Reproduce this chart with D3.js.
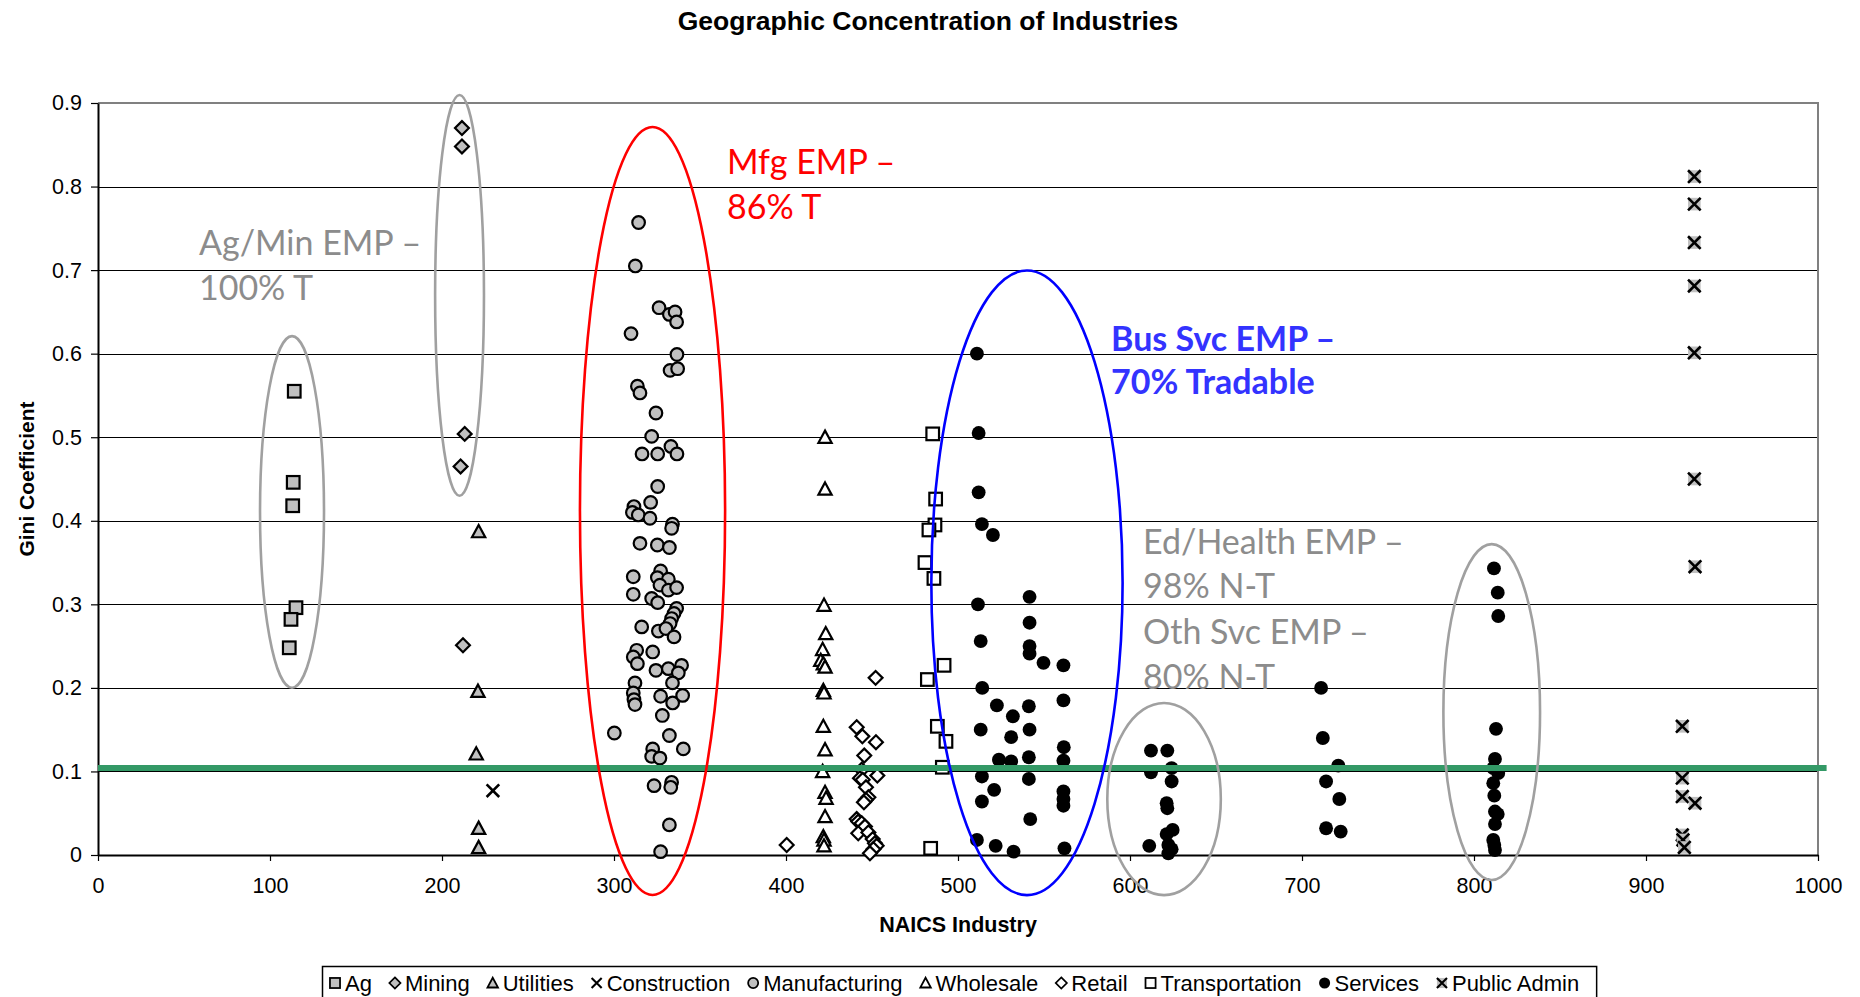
<!DOCTYPE html>
<html>
<head>
<meta charset="utf-8">
<script src="https://cdn.jsdelivr.net/npm/d3@7"></script>
<style>
  body { margin: 0; background: #fff; }
  text { font-family: "Liberation Sans", Arial, sans-serif; }
  .note { font-family: Lato, "Open Sans", sans-serif; }
</style>
</head>
<body>
<div id="chart"></div>
<script>
// ---- data (NAICS code, Gini coefficient) ----
const ag = [[114.1, 0.555], [113.5, 0.446], [113.2, 0.418], [115.1, 0.296], [112.2, 0.282], [111.2, 0.248]];
const mining = [[211.6, 0.870], [211.6, 0.848], [213.2, 0.504], [210.8, 0.465], [212.2, 0.251]];
const utilities = [[221.3, 0.387], [220.9, 0.196], [219.9, 0.121], [221.3, 0.032], [221.3, 0.009]];
const construction = [[229.6, 0.077]];
const manufacturing = [
  [314.3, 0.757], [312.4, 0.705], [326.2, 0.655], [332.2, 0.647], [335.5, 0.650], [336.4, 0.638], [309.9, 0.624],
  [336.6, 0.599], [332.6, 0.580], [337.0, 0.582], [313.6, 0.561], [315.1, 0.553], [324.4, 0.529], [321.9, 0.501],
  [333.1, 0.489], [316.3, 0.480], [325.4, 0.480], [336.6, 0.480], [325.4, 0.441], [321.3, 0.422], [311.6, 0.417],
  [310.7, 0.410], [314.1, 0.407], [320.9, 0.403], [334.0, 0.396], [333.5, 0.391], [315.1, 0.373], [325.2, 0.371],
  [332.2, 0.368], [311.2, 0.333], [327.1, 0.340], [325.2, 0.332], [331.6, 0.330], [326.7, 0.323], [331.6, 0.317],
  [336.4, 0.320], [311.2, 0.312], [321.9, 0.307], [325.4, 0.302], [336.4, 0.295], [334.9, 0.289], [333.5, 0.283],
  [332.6, 0.277], [316.1, 0.273], [325.8, 0.268], [330.2, 0.271], [334.9, 0.261], [313.2, 0.245], [311.2, 0.237],
  [313.6, 0.229], [322.5, 0.243], [324.4, 0.221], [331.6, 0.223], [339.3, 0.227], [337.4, 0.218], [334.0, 0.206],
  [312.2, 0.206], [311.2, 0.194], [311.6, 0.186], [312.2, 0.180], [327.1, 0.190], [334.1, 0.182], [339.9, 0.191],
  [328.1, 0.167], [300.2, 0.146], [332.2, 0.143], [340.3, 0.127], [322.5, 0.127], [321.9, 0.118], [326.7, 0.116],
  [323.3, 0.083], [333.5, 0.087], [333.0, 0.081], [332.2, 0.036], [327.1, 0.004]
];
const wholesale = [
  [422.7, 0.500], [422.7, 0.438], [422.1, 0.299], [423.1, 0.265], [421.3, 0.246], [420.2, 0.233], [421.7, 0.229],
  [422.7, 0.225], [421.7, 0.197], [422.1, 0.194], [421.7, 0.154], [422.7, 0.126], [421.3, 0.100], [422.7, 0.075],
  [423.3, 0.068], [422.7, 0.046], [421.7, 0.022], [422.1, 0.018], [422.1, 0.011]
];
const retail = [
  [400.4, 0.012], [452.1, 0.212], [441.1, 0.153], [444.4, 0.142], [452.3, 0.135], [445.5, 0.119], [444.0, 0.102],
  [453.1, 0.095], [443.0, 0.092], [444.6, 0.090], [446.5, 0.081], [447.9, 0.069], [446.5, 0.066], [445.3, 0.063],
  [441.1, 0.043], [442.0, 0.040], [444.0, 0.038], [445.9, 0.034], [442.0, 0.026], [447.9, 0.027], [450.4, 0.019],
  [451.7, 0.014], [452.7, 0.011], [450.8, 0.007], [448.8, 0.002]
];
const transportation = [
  [485.3, 0.504], [487.0, 0.426], [486.6, 0.395], [483.1, 0.389], [480.8, 0.350], [486.0, 0.331], [491.9, 0.227],
  [482.2, 0.210], [488.0, 0.154], [493.0, 0.136], [490.9, 0.105], [484.1, 0.008]
];
const services = [
  [511.0, 0.600], [512.0, 0.505], [512.0, 0.434], [513.9, 0.396], [520.3, 0.383], [511.6, 0.300], [513.2, 0.256],
  [514.1, 0.200], [513.2, 0.150], [513.9, 0.094], [513.9, 0.064], [511.0, 0.018], [522.6, 0.179], [531.9, 0.166],
  [530.9, 0.141], [523.8, 0.114], [530.9, 0.112], [521.0, 0.078], [521.9, 0.011], [532.3, 0.004], [541.6, 0.309],
  [541.6, 0.278], [541.6, 0.250], [541.6, 0.241], [549.7, 0.230], [561.3, 0.227], [541.2, 0.178], [541.6, 0.150],
  [541.2, 0.117], [541.2, 0.091], [542.0, 0.043], [561.3, 0.185], [561.5, 0.129], [561.3, 0.113], [561.3, 0.076],
  [561.3, 0.067], [561.3, 0.059], [561.9, 0.008],
  [612.2, 0.125], [621.7, 0.125], [612.2, 0.099], [624.2, 0.104], [624.2, 0.088], [621.3, 0.062], [621.7, 0.056],
  [624.8, 0.030], [621.3, 0.025], [611.2, 0.011], [622.3, 0.012], [624.2, 0.007], [622.3, 0.002],
  [711.1, 0.200], [712.1, 0.140], [721.1, 0.107], [714.0, 0.088], [721.7, 0.067], [714.0, 0.032], [722.5, 0.028],
  [811.6, 0.343], [813.8, 0.314], [814.1, 0.286], [812.8, 0.151], [812.2, 0.115], [811.2, 0.104], [814.1, 0.098],
  [811.2, 0.086], [811.8, 0.071], [812.2, 0.052], [813.8, 0.049], [812.2, 0.037], [811.2, 0.018], [811.8, 0.012],
  [812.2, 0.006]
];
const publicAdmin = [
  [928.1, 0.812], [928.1, 0.779], [928.1, 0.733], [928.1, 0.681], [928.1, 0.601], [928.1, 0.450], [928.5, 0.345],
  [921.1, 0.154], [921.1, 0.092], [921.1, 0.070], [928.5, 0.062], [921.1, 0.024], [921.5, 0.018], [922.3, 0.009]
];

const xTicks = [0, 100, 200, 300, 400, 500, 600, 700, 800, 900, 1000];
const yTicks = [0, 0.1, 0.2, 0.3, 0.4, 0.5, 0.6, 0.7, 0.8, 0.9];
const benchmark = 0.104;

// ellipses: [cx, cy, rx, ry] in data units
const ellipses = [
  { c: [112.8, 0.4106, 18.6, 0.2104], color: "#a0a0a0" },
  { c: [210.2, 0.6698, 14.2, 0.2398], color: "#a0a0a0" },
  { c: [322.4, 0.4117, 42.2, 0.4596], color: "#ff0000" },
  { c: [540.1, 0.3258, 55.6, 0.3738], color: "#0000ff" },
  { c: [619.8, 0.0670, 33.0, 0.1150], color: "#a0a0a0" },
  { c: [810.3, 0.1711, 28.1, 0.2010], color: "#a0a0a0" }
];

const notes = [
  { x: 58.7, y: [0.7348, 0.6809], lines: ["Ag/Min EMP \u2013", "100% T"], color: "#8c8c8c", bold: false },
  { x: 365.7, y: [0.8317, 0.7779], lines: ["Mfg EMP \u2013", "86% T"], color: "#ff0000", bold: false },
  { x: 589.0, y: [0.6199, 0.5673], lines: ["Bus Svc EMP \u2013", "70% Tradable"], color: "#3333ff", bold: true },
  { x: 607.6, y: [0.3758, 0.3232, 0.2681, 0.2154],
    lines: ["Ed/Health EMP \u2013", "98% N-T", "Oth Svc EMP \u2013", "80% N-T"], color: "#8c8c8c", bold: false }
];

const series = [
  { name: "Ag", data: ag, shape: "square", fill: "#c0c0c0" },
  { name: "Mining", data: mining, shape: "diamond", fill: "#c0c0c0" },
  { name: "Utilities", data: utilities, shape: "triangle", fill: "#c0c0c0" },
  { name: "Construction", data: construction, shape: "boxx", fill: "#fff" },
  { name: "Manufacturing", data: manufacturing, shape: "circle", fill: "#c0c0c0" },
  { name: "Wholesale", data: wholesale, shape: "triangle", fill: "#fff" },
  { name: "Retail", data: retail, shape: "diamond", fill: "#fff" },
  { name: "Transportation", data: transportation, shape: "square", fill: "#fff" },
  { name: "Services", data: services, shape: "dot", fill: "#000" },
  { name: "Public Admin", data: publicAdmin, shape: "grayx", fill: "#c0c0c0" }
];

// ---- chart ----
const width = 1860, height = 997;
const margin = { top: 103, right: 42, bottom: 142, left: 98 };

const svg = d3.select("#chart").append("svg").attr("width", width).attr("height", height);

const x = d3.scaleLinear().domain([0, 1000]).range([margin.left, width - margin.right]);
const y = d3.scaleLinear().domain([0, 0.9]).range([height - margin.bottom, margin.top]);

// title
svg.append("text")
  .attr("x", width / 2 - 2).attr("y", 30)
  .attr("text-anchor", "middle")
  .attr("font-size", 26.5).attr("font-weight", "bold")
  .text("Geographic Concentration of Industries");

// grid lines
svg.append("g")
  .selectAll("line")
  .data(yTicks.filter(d => d > 0 && d < 0.9))
  .join("line")
  .attr("x1", x(0)).attr("x2", x(1000))
  .attr("y1", d => Math.round(y(d)) + 0.5).attr("y2", d => Math.round(y(d)) + 0.5)
  .attr("stroke", "#000").attr("stroke-width", 1);

// plot border (top, right)
svg.append("path")
  .attr("d", `M${x(0)},${y(0.9)}H${x(1000)}V${y(0)}`)
  .attr("fill", "none").attr("stroke", "#808080").attr("stroke-width", 2);

// axes
const xAxis = d3.axisBottom(x).tickValues(xTicks).tickSize(6).tickSizeOuter(0).tickPadding(17)
  .tickFormat(d3.format("d"));
const yAxis = d3.axisLeft(y).tickValues(yTicks).tickSize(7).tickSizeOuter(0).tickPadding(9)
  .tickFormat(d => d === 0 ? "0" : d3.format(".1f")(d));

const gx = svg.append("g").attr("transform", `translate(0,${y(0)})`).call(xAxis);
const gy = svg.append("g").attr("transform", `translate(${x(0)},0)`).call(yAxis);
[gx, gy].forEach(g => {
  g.selectAll("text").attr("font-size", 21.5).attr("fill", "#000")
    .attr("font-family", "'Liberation Sans', Arial, sans-serif");
  g.selectAll("line").attr("stroke", "#000").attr("stroke-width", 1.2);
  g.select(".domain").attr("stroke", "#000").attr("stroke-width", 2);
});

// axis titles
svg.append("text")
  .attr("transform", `translate(26,${(y(0) + y(0.9)) / 2}) rotate(-90)`)
  .attr("text-anchor", "middle").attr("dominant-baseline", "central")
  .attr("font-size", 21).attr("font-weight", "bold")
  .text("Gini Coefficient");

svg.append("text")
  .attr("x", (x(0) + x(1000)) / 2).attr("y", 925)
  .attr("text-anchor", "middle").attr("dominant-baseline", "central")
  .attr("font-size", 21.5).attr("font-weight", "bold")
  .text("NAICS Industry");

// marker drawing
function drawMarker(g, shape, fill, k) {
  const r = 6.3 * k;
  const sw = 2.2 * k;
  if (shape === "square") {
    g.append("rect").attr("x", -r).attr("y", -r).attr("width", 2 * r).attr("height", 2 * r)
      .attr("fill", fill).attr("stroke", "#000").attr("stroke-width", sw);
  } else if (shape === "diamond") {
    const d = r * 1.1;
    g.append("path").attr("d", `M0,${-d}L${d},0L0,${d}L${-d},0Z`)
      .attr("fill", fill).attr("stroke", "#000").attr("stroke-width", sw);
  } else if (shape === "triangle") {
    const d = r * 1.05;
    g.append("path").attr("d", `M0,${-d}L${d},${d * 0.85}L${-d},${d * 0.85}Z`)
      .attr("fill", fill).attr("stroke", "#000").attr("stroke-width", sw).attr("stroke-linejoin", "miter");
  } else if (shape === "circle") {
    g.append("circle").attr("r", r).attr("fill", fill).attr("stroke", "#000").attr("stroke-width", sw);
  } else if (shape === "dot") {
    g.append("circle").attr("r", r * 1.1).attr("fill", fill);
  } else if (shape === "boxx" || shape === "grayx") {
    g.append("rect").attr("x", -r).attr("y", -r).attr("width", 2 * r).attr("height", 2 * r)
      .attr("fill", fill);
    g.append("path").attr("d", `M${-r},${-r}L${r},${r}M${r},${-r}L${-r},${r}`)
      .attr("stroke", "#000").attr("stroke-width", 2.6 * k);
  }
}

// points
const pts = svg.append("g");
series.forEach(s => {
  pts.append("g").selectAll("g")
    .data(s.data)
    .join("g")
    .attr("transform", d => `translate(${x(d[0])},${y(d[1])})`)
    .each(function () { drawMarker(d3.select(this), s.shape, s.fill, 1); });
});

// benchmark line
svg.append("line")
  .attr("x1", x(0)).attr("x2", x(1005))
  .attr("y1", y(benchmark)).attr("y2", y(benchmark))
  .attr("stroke", "#339966").attr("stroke-width", 6);

// ellipses
svg.append("g").selectAll("ellipse")
  .data(ellipses)
  .join("ellipse")
  .attr("cx", d => x(d.c[0]))
  .attr("cy", d => y(d.c[1]))
  .attr("rx", d => x(d.c[2]) - x(0))
  .attr("ry", d => y(0) - y(d.c[3]))
  .attr("fill", "none")
  .attr("stroke", d => d.color)
  .attr("stroke-width", 2.6);

// annotations
notes.forEach(n => {
  n.lines.forEach((t, i) => {
    svg.append("text").attr("class", "note")
      .attr("x", x(n.x)).attr("y", y(n.y[i]))
      .attr("dominant-baseline", "central")
      .attr("font-size", 34)
      .attr("font-weight", n.bold ? "bold" : "normal")
      .attr("fill", n.color)
      .text(t);
  });
});

// legend
const legend = svg.append("g");
const legendBox = legend.append("rect")
  .attr("y", 966.5).attr("height", 40)
  .attr("fill", "#fff").attr("stroke", "#000").attr("stroke-width", 1.5);
const gap = 23;
let cursor = 0;
const items = legend.append("g");
series.forEach(s => {
  const it = items.append("g").attr("transform", `translate(${cursor},0)`);
  drawMarker(it.append("g").attr("transform", "translate(0,983)"), s.shape, s.fill, 0.8);
  const t = it.append("text").attr("x", 10).attr("y", 983)
    .attr("dominant-baseline", "central").attr("font-size", 22).text(s.name);
  cursor += 10 + t.node().getComputedTextLength() + gap;
});
const total = cursor - gap + 6;
const startX = 335;
items.attr("transform", `translate(${startX},0)`);
legendBox.attr("x", startX - 12.5).attr("width", total + 24);
</script>
</body>
</html>
